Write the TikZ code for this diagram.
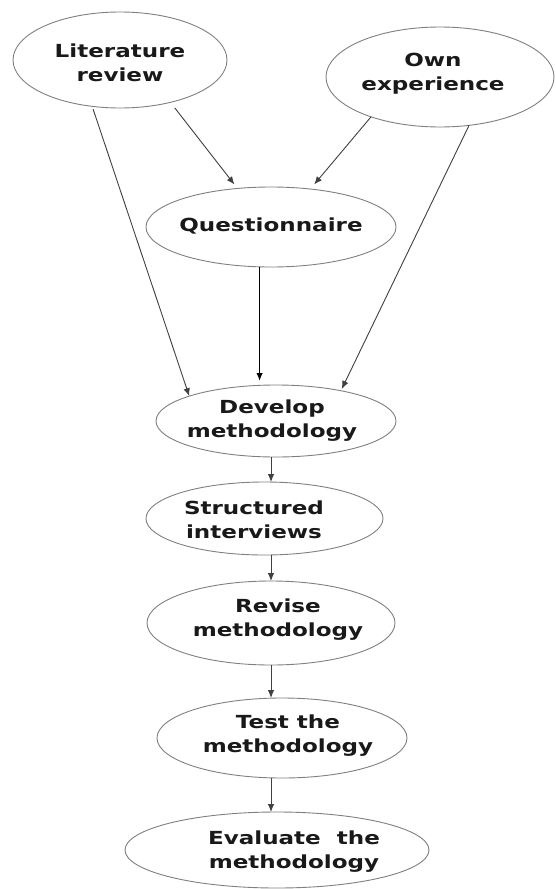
\documentclass[tikz,border=0pt]{standalone}
\usepackage{fontspec}
\setmainfont{DejaVu Sans}[FakeStretch=1.28]
\usetikzlibrary{shapes.geometric,arrows.meta}

\tikzset{
  oval/.style={ellipse, draw=black!50, line width=0.9pt, inner sep=0pt, outer sep=0pt},
  lbl/.style={font=\fontsize{18}{24}\selectfont\bfseries, align=center, inner sep=0pt, text=black!90},
  link/.style={draw=black!75, line width=0.9pt, -{Latex[length=8pt,width=6.5pt]}},
  mainlink/.style={draw=black, line width=1.5pt, -{Latex[length=8pt,width=6.5pt]}},
}

\begin{document}
\begin{tikzpicture}[x=1pt,y=-1pt]
  \useasboundingbox (0,0) rectangle (555,889);
  \fill[white] (0,0) rectangle (555,889);

  % sources
  \node[oval, minimum width=214pt, minimum height=96pt] (lit) at (120,60) {};
  \node[lbl] (litT) at (120,63) {Literature\\review};
  \node[oval, minimum width=228pt, minimum height=100pt] (own) at (440,77) {};
  \node[lbl] (ownT) at (433,74) {Own\\experience};

  \node[oval, minimum width=250pt, minimum height=80pt] (quest) at (271,227) {};
  \node[lbl] (questT) at (271,226) {Questionnaire};

  % main sequence
  \node[oval, minimum width=240pt, minimum height=72pt] (dev) at (276,421) {};
  \node[lbl] (devT) at (272,421) {Develop\\methodology};
  \node[oval, minimum width=237pt, minimum height=73pt] (struct) at (264.5,518.5) {};
  \node[lbl] (structT) at (254,520) {Structured\\interviews};
  \node[oval, minimum width=248pt, minimum height=84pt] (rev) at (271,623) {};
  \node[lbl] (revT) at (278,620) {Revise\\methodology};
  \node[oval, minimum width=250pt, minimum height=80pt] (test) at (282,738) {};
  \node[lbl] (testT) at (288,736) {Test the\\methodology};
  \node[oval, minimum width=304pt, minimum height=76pt] (eval) at (277,850) {};
  \node[lbl] (evalT) at (294,852) {Evaluate\ \ the\\methodology};

  \coordinate (spine) at (271,0);

  % inputs to the questionnaire
  \draw[link, shorten <=7pt, shorten >=5pt] (lit.-40) -- (quest.131);
  \draw[link, shorten >=6pt] (own.210) -- (quest.44);

  % inputs to the methodology
  \draw[link, shorten <=3pt] (lit.-121) -- (dev.164);
  \draw[mainlink, shorten >=4pt] (quest.254) -- (quest.254 |- dev.north);
  \draw[link, shorten >=2pt] (own.-59) -- (dev.25);

  % sequence
  \draw[link] (dev.south -| spine) -- (struct.north -| spine);
  \draw[link] (struct.south -| spine) -- (rev.north -| spine);
  \draw[link] (rev.south -| spine) -- (test.north -| spine);
  \draw[link] (test.south -| spine) -- (eval.north -| spine);
\end{tikzpicture}
\end{document}
